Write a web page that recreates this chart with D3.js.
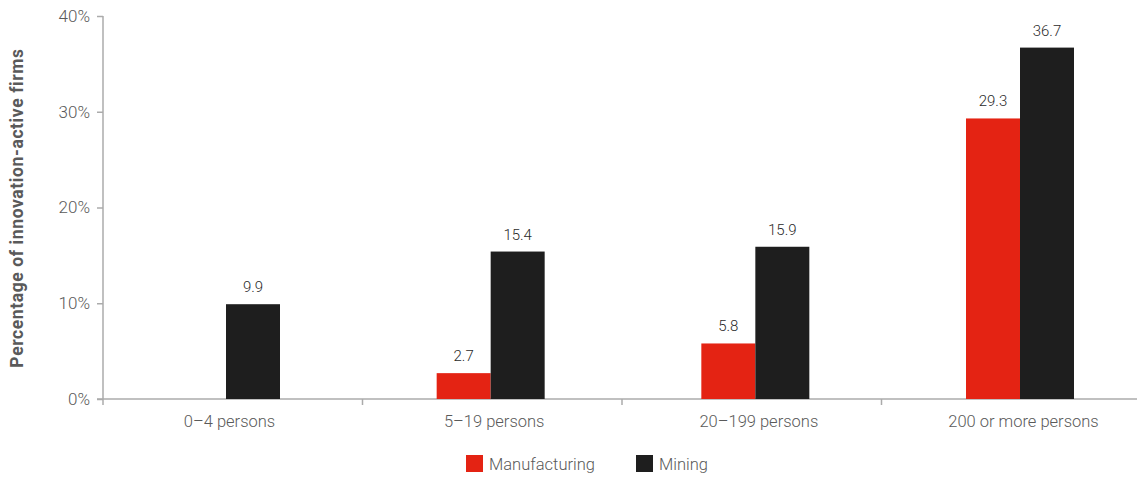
<!DOCTYPE html>
<html><head><meta charset="utf-8">
<script src="https://cdn.jsdelivr.net/npm/d3@7"></script>
<style>body{margin:0;background:#fff}svg{display:block}text{font-family:Roboto,"Open Sans",sans-serif}</style>
</head><body><svg id="c" width="1137" height="481"></svg>
<script>
const categories = ["0\u20134 persons","5\u201319 persons","20\u2013199 persons","200 or more persons"];
const manufacturing = [null, 2.7, 5.8, 29.3];
const mining = [9.9, 15.4, 15.9, 36.7];
const seriesNames = ["Manufacturing","Mining"];
const seriesColors = ["#e42313","#1e1e1e"];
const yTicks = [0,10,20,30,40];

const svg = d3.select("#c");
const axisColor = "#ababab", textColor = "#5a5a5a";
const y = d3.scaleLinear().domain([0,40]).range([399,16]);
const xBand = d3.scaleBand().domain(categories).range([103,1141]);
const xc = d3.scalePoint().domain(categories).range([226,1020]);
const xs = d3.scaleBand().domain(seriesNames).range([-54,54]);

// y axis
const ya = svg.append("g").attr("transform","translate(103,0)")
  .call(d3.axisLeft(y).tickValues(yTicks).tickSize(6).tickPadding(7).tickFormat(d=>d+"%"));
ya.select(".domain").attr("stroke",axisColor).attr("stroke-width",1.5).attr("d","M0,16V405");
ya.selectAll(".tick line").attr("stroke",axisColor).attr("stroke-width",1.5);
ya.selectAll(".tick text").attr("fill",textColor).style("font-size","17px").style("font-weight","300");

// x axis line + boundary ticks
svg.append("line").attr("x1",97).attr("x2",1137).attr("y1",399).attr("y2",399)
  .attr("stroke",axisColor).attr("stroke-width",1.5);
svg.selectAll(".bt").data(categories.slice(1)).join("line")
  .attr("x1",d=>xBand(d)).attr("x2",d=>xBand(d)).attr("y1",399).attr("y2",405)
  .attr("stroke",axisColor).attr("stroke-width",1.5);
const xa = svg.append("g").attr("transform","translate(3,399)")
  .call(d3.axisBottom(xc).tickSize(0).tickPadding(16));
xa.select(".domain").remove();
xa.selectAll(".tick text").attr("fill",textColor).style("font-size","16.5px").style("font-weight","300");

// bars
const data = [];
categories.forEach((c,i)=>{
  [manufacturing[i], mining[i]].forEach((v,j)=>{ if(v!=null) data.push({c, s:seriesNames[j], v, col:seriesColors[j]}); });
});
svg.selectAll(".bar").data(data).join("rect")
  .attr("x",d=>xc(d.c)+xs(d.s)).attr("width",xs.bandwidth())
  .attr("y",d=>y(d.v)).attr("height",d=>y(0)-y(d.v)).attr("fill",d=>d.col);
svg.selectAll(".lbl").data(data).join("text")
  .attr("x",d=>xc(d.c)+xs(d.s)+xs.bandwidth()/2).attr("y",d=>y(d.v)-12)
  .attr("text-anchor","middle").attr("fill","#2a2a2a").style("font-size","15px").style("font-weight","300")
  .text(d=>d.v.toFixed(1));

// y title
svg.append("text").attr("transform","translate(23,208) rotate(-90)")
  .attr("text-anchor","middle").attr("fill",textColor).style("font-size","17.5px").style("font-weight","700")
  .style("letter-spacing","0.6px")
  .text("Percentage of innovation-active firms");

// legend
const legX = [466,636];
const lg = svg.selectAll(".lg").data(seriesNames).join("g").attr("transform",(d,i)=>`translate(${legX[i]},455)`);
lg.append("rect").attr("width",17).attr("height",17).attr("fill",(d,i)=>seriesColors[i]);
lg.append("text").attr("x",23).attr("y",15).attr("fill",textColor).style("font-size","16.5px").style("font-weight","300").text(d=>d);
</script></body></html>
